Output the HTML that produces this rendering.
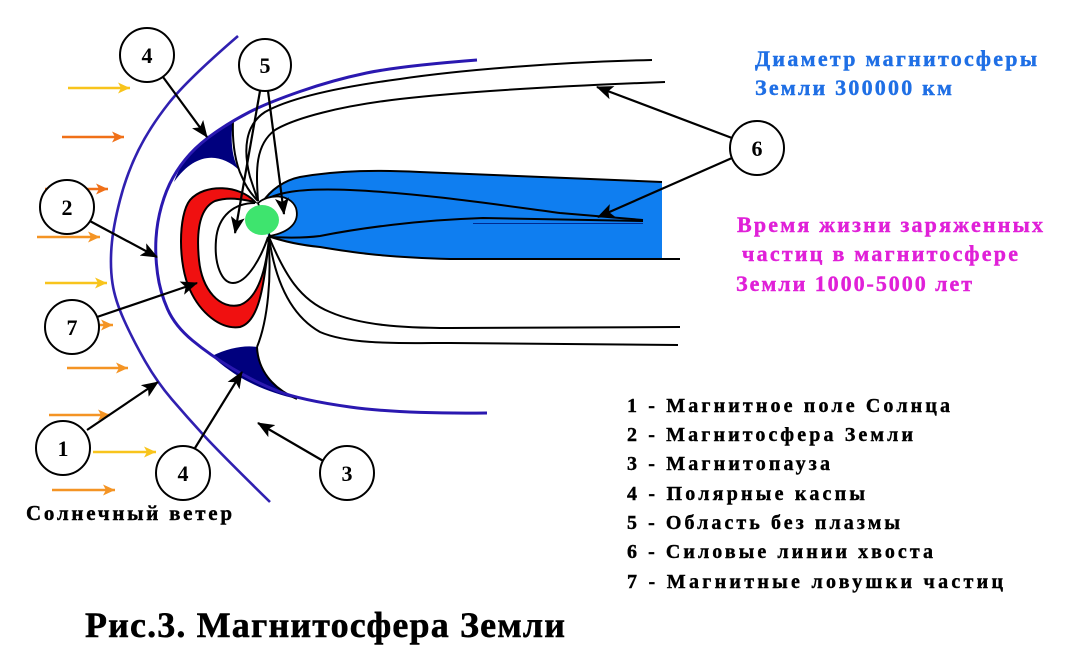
<!DOCTYPE html>
<html>
<head>
<meta charset="utf-8">
<style>
html,body{margin:0;padding:0;background:#fff;}
svg{display:block;}
text{font-family:"Liberation Serif","DejaVu Serif",serif;font-weight:bold;}
</style>
</head>
<body>
<svg width="1069" height="672" viewBox="0 0 1069 672" xmlns="http://www.w3.org/2000/svg">
<defs>
  <marker id="ah" markerUnits="userSpaceOnUse" markerWidth="18" markerHeight="14" refX="16" refY="7" orient="auto">
    <path d="M0,0 L17,7 L0,14 L4,7 Z" fill="#000"/>
  </marker>
  <marker id="ay" markerUnits="userSpaceOnUse" markerWidth="13" markerHeight="12" refX="12" refY="5.5" orient="auto">
    <path d="M0,0 L12,5.5 L0,11 L3,5.5 Z" fill="#f8c41c"/>
  </marker>
  <marker id="ao" markerUnits="userSpaceOnUse" markerWidth="13" markerHeight="12" refX="12" refY="5.5" orient="auto">
    <path d="M0,0 L12,5.5 L0,11 L3,5.5 Z" fill="#f07018"/>
  </marker>
  <marker id="al" markerUnits="userSpaceOnUse" markerWidth="13" markerHeight="12" refX="12" refY="5.5" orient="auto">
    <path d="M0,0 L12,5.5 L0,11 L3,5.5 Z" fill="#f49424"/>
  </marker>
</defs>

<rect width="1069" height="672" fill="#fff"/>

<!-- solar wind arrows -->
<g stroke-width="2.6" fill="none">
  <line x1="68" y1="88" x2="130" y2="88" stroke="#f8c41c" marker-end="url(#ay)"/>
  <line x1="62" y1="137" x2="124" y2="137" stroke="#f07018" marker-end="url(#ao)"/>
  <line x1="45" y1="189" x2="108" y2="189" stroke="#f07018" marker-end="url(#ao)"/>
  <line x1="37" y1="237" x2="100" y2="237" stroke="#f49424" marker-end="url(#al)"/>
  <line x1="45" y1="283" x2="107" y2="283" stroke="#f8c41c" marker-end="url(#ay)"/>
  <line x1="50" y1="325" x2="113" y2="325" stroke="#f49424" marker-end="url(#al)"/>
  <line x1="67" y1="368" x2="128" y2="368" stroke="#f49424" marker-end="url(#al)"/>
  <line x1="49" y1="415" x2="110" y2="415" stroke="#f49424" marker-end="url(#al)"/>
  <line x1="93" y1="452" x2="156" y2="452" stroke="#f8c41c" marker-end="url(#ay)"/>
  <line x1="52" y1="490" x2="115" y2="490" stroke="#f49424" marker-end="url(#al)"/>
</g>

<!-- blue tail -->
<path d="M262,203 C270,190 285,180 300,177 C340,170 380,170 420,172 L662,182 L662,259 L450,259 C380,257 350,252 320,247 C300,245 285,242 268,236 Z" fill="#0f7ef0"/>
<path d="M262,203 C270,190 285,180 300,177 C340,170 380,170 420,172 L662,182" fill="none" stroke="#000" stroke-width="2"/>
<path d="M268,236 C285,242 300,245 320,247 C350,252 380,257 450,259 L680,259" fill="none" stroke="#000" stroke-width="2"/>
<path d="M260,203 C275,192 300,188 350,190 C420,193 500,205 560,213 L643,220" fill="none" stroke="#000" stroke-width="2"/>
<path d="M269,237 C290,238 305,238 320,236 C360,228 420,220 483,218 L643,221" fill="none" stroke="#000" stroke-width="2"/>
<line x1="473" y1="223.5" x2="643" y2="223.5" stroke="#002a90" stroke-width="1"/>

<!-- white bump (no plasma region) -->
<path d="M258,203 C268,194 290,193 296,208 C300,222 290,232 270,236 Z" fill="#fff" stroke="#000" stroke-width="1.8"/>

<!-- red crescent -->
<path d="M255,202 C240,185 205,183 190,200 C178,215 178,265 190,290 C200,312 220,330 240,327 C258,322 264,290 269,238 C266,270 258,298 240,305 C220,310 202,290 199,260 C196,230 200,208 215,201 C230,196 245,200 255,202 Z" fill="#f01010" stroke="#000" stroke-width="2"/>

<!-- inner loop -->
<path d="M255,203 C235,203 218,215 216,240 C214,265 222,283 233,283 C248,283 262,255 268,237" fill="none" stroke="#000" stroke-width="2"/>

<!-- cusps -->
<path d="M233,121 C230,140 232,158 239,170 C220,152 195,152 174,182 Q185,148 233,121 Z" fill="#00007e"/>
<path d="M212,356 C228,348 245,345 257,347 C258,370 272,388 297,399 C265,392 235,378 212,356 Z" fill="#00007e"/>

<!-- field lines -->
<g fill="none" stroke="#000" stroke-width="2">
  <path d="M652,60 C560,62 460,70 400,79 C340,87 290,98 265,112 C245,125 243,150 250,177 L258,201"/>
  <path d="M665,82 C560,86 460,92 400,99 C340,106 295,118 275,130 C255,145 256,170 258,201"/>
  <path d="M233,121 C232,145 236,165 242,177 C246,187 252,195 258,201"/>
  <path d="M269,237 C285,275 300,300 330,312 C360,325 400,328 450,328 L680,327"/>
  <path d="M269,237 C275,280 290,315 320,332 C350,345 400,343 450,343 L678,345"/>
  <path d="M268,237 C272,275 268,320 257,347"/>
  <path d="M257,347 C258,370 272,388 297,399"/>
</g>

<!-- earth -->
<ellipse cx="262" cy="220" rx="17" ry="15" fill="#3ee46e"/>

<!-- magnetopause -->
<path d="M477,60 Q400,66 366.5,73 Q333,80 300,91.5 Q267,103 249.5,112 Q232,121 216,132 Q200,143 190,154 Q180,165 173,177.5 Q166,190 161.5,206 Q157,222 156,238.5 Q155,255 157.5,273.5 Q160,292 167.5,309 Q175,326 192.5,340.5 Q210,355 232.5,368.5 Q255,382 277.5,391 Q300,400 350,407 Q400,414 487,413" fill="none" stroke="#2a18b0" stroke-width="3"/>

<!-- bow shock -->
<path d="M238,36 Q187,80 168.5,103.5 Q150,127 138.5,150 Q127,173 120,200 Q113,227 111.5,247 Q110,267 112.5,283.5 Q115,300 124,320 Q133,340 145,361 Q157,382 172,399.5 Q187,417 203.5,435 Q220,453 270,502" fill="none" stroke="#3020b0" stroke-width="2.6"/>

<!-- label arrows -->
<g stroke="#000" stroke-width="2.2" fill="none" marker-end="url(#ah)">
  <line x1="163" y1="77" x2="207" y2="137"/>
  <line x1="260" y1="91" x2="235" y2="233"/>
  <line x1="268" y1="91" x2="284" y2="214"/>
  <line x1="88" y1="220" x2="157" y2="257"/>
  <line x1="97" y1="317" x2="197" y2="283"/>
  <line x1="87" y1="430" x2="158" y2="382"/>
  <line x1="195" y1="448" x2="242" y2="372"/>
  <line x1="325" y1="462" x2="258" y2="423"/>
  <line x1="732" y1="138" x2="597" y2="87"/>
  <line x1="732" y1="158" x2="598" y2="217"/>
</g>

<!-- circles -->
<g fill="#fff" stroke="#000" stroke-width="2">
  <circle cx="147" cy="55" r="27"/>
  <circle cx="265" cy="65" r="26"/>
  <circle cx="67" cy="207" r="27"/>
  <circle cx="72" cy="327" r="27"/>
  <circle cx="63" cy="448" r="27"/>
  <circle cx="183" cy="473" r="27"/>
  <circle cx="347" cy="473" r="27"/>
  <circle cx="757" cy="148" r="27"/>
</g>
<g font-size="22" text-anchor="middle" fill="#000">
  <text x="147" y="63">4</text>
  <text x="265" y="73">5</text>
  <text x="67" y="215">2</text>
  <text x="72" y="335">7</text>
  <text x="63" y="456">1</text>
  <text x="183" y="481">4</text>
  <text x="347" y="481">3</text>
  <text x="757" y="156">6</text>
</g>

<!-- texts -->
<text x="26" y="520" font-size="21" textLength="206" lengthAdjust="spacing" fill="#000" stroke="#000" stroke-width="0.4">Солнечный ветер</text>

<g font-size="22" fill="#1f6fe5" stroke="#1f6fe5" stroke-width="0.4">
  <text x="755" y="66" textLength="282" lengthAdjust="spacing">Диаметр магнитосферы</text>
  <text x="755" y="95" textLength="197" lengthAdjust="spacing">Земли 300000 км</text>
</g>

<g font-size="22" fill="#e020d8" stroke="#e020d8" stroke-width="0.4">
  <text x="737" y="232" textLength="306" lengthAdjust="spacing">Время жизни заряженных</text>
  <text x="742" y="261" textLength="276" lengthAdjust="spacing">частиц в магнитосфере</text>
  <text x="736" y="291" textLength="236" lengthAdjust="spacing">Земли 1000-5000 лет</text>
</g>

<g font-size="20" fill="#000" stroke="#000" stroke-width="0.4">
  <text x="627" y="412" textLength="323" lengthAdjust="spacing">1 - Магнитное поле Солнца</text>
  <text x="627" y="441" textLength="286" lengthAdjust="spacing">2 - Магнитосфера Земли</text>
  <text x="627" y="470" textLength="203" lengthAdjust="spacing">3 - Магнитопауза</text>
  <text x="627" y="500" textLength="238" lengthAdjust="spacing">4 - Полярные каспы</text>
  <text x="627" y="529" textLength="273" lengthAdjust="spacing">5 - Область без плазмы</text>
  <text x="627" y="558" textLength="306" lengthAdjust="spacing">6 - Силовые линии хвоста</text>
  <text x="627" y="588" textLength="376" lengthAdjust="spacing">7 - Магнитные ловушки частиц</text>
</g>

<text x="85" y="637" font-size="36" textLength="480" lengthAdjust="spacing" fill="#000" stroke="#000" stroke-width="0.5">Рис.3. Магнитосфера Земли</text>
</svg>
</body>
</html>
